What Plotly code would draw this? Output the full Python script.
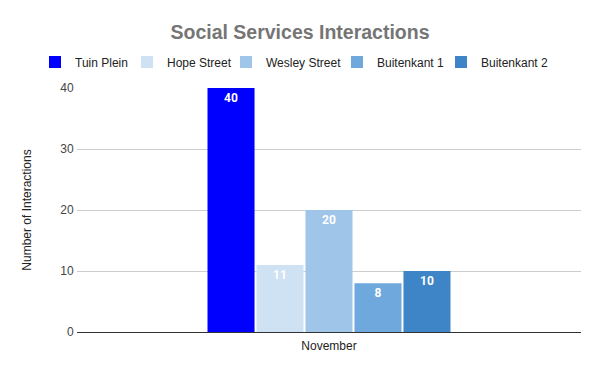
import plotly.graph_objects as go

categories = ["November"]
series_names = ["Tuin Plein", "Hope Street", "Wesley Street", "Buitenkant 1", "Buitenkant 2"]
series_values = [[40], [11], [20], [8], [10]]
series_colors = ["#0000FF", "#CFE2F3", "#9FC5E8", "#6FA8DC", "#3D85C6"]
legend_widths = [47, 54, 66, 59, 75]
y_ticks = [0, 10, 20, 30, 40]

# page is rendered with an 8px body margin, so positions are compensated by -8px
OFF = 8
W, H = 600, 371
ML, MR, MT, MB = 77 - OFF, 19 + OFF, 88 - OFF, 39 + OFF
PW, PH = W - ML - MR, H - MT - MB

fig = go.Figure()
for name, vals, col, lw in zip(series_names, series_values, series_colors, legend_widths):
    fig.add_trace(go.Bar(
        x=categories, y=vals, name=name, marker=dict(color=col, line=dict(width=0)),
        text=[str(v) for v in vals], textposition="inside", insidetextanchor="end",
        textangle=0, legendwidth=lw,
        textfont=dict(family="Roboto", size=12, color="white", weight="bold"),
        cliponaxis=False,
    ))

fig.update_layout(
    width=W, height=H,
    paper_bgcolor="white", plot_bgcolor="white",
    margin=dict(l=ML, r=MR, t=MT, b=MB, autoexpand=False),
    barmode="group", bargap=0.514, bargroupgap=0.04,
    font=dict(family="Liberation Sans, Arial", size=12, color="#444444"),
    title=dict(text="<b>Social Services Interactions</b>", x=(300 - OFF) / W, xanchor="center", xref="container",
               y=1 - (32 - OFF) / H, yanchor="middle", yref="container",
               font=dict(size=19.5, color="#757575", family="Liberation Sans, Arial")),
    legend=dict(orientation="h", x=((35 - OFF) - ML) / PW, xanchor="left",
                y=1 + (MT - (62 - OFF)) / PH, yanchor="middle",
                font=dict(size=12, color="#222222"),
                itemwidth=30, tracegroupgap=0),
    showlegend=True,
    xaxis=dict(showgrid=False, ticks="", automargin=False, ticklabelstandoff=5,
               tickfont=dict(size=12, color="#222222")),
    yaxis=dict(range=[0, 40], tickvals=y_ticks, showgrid=True, gridcolor="#CCCCCC",
               automargin=False,
               zeroline=True, zerolinecolor="#333333", zerolinewidth=1,
               ticks="outside", ticklen=0, tickfont=dict(size=12, color="#444444"),
               title=dict(text="Number of Interactions", font=dict(size=12, color="#222222"),
                          standoff=26)),
)

fig.write_html("out.html")
